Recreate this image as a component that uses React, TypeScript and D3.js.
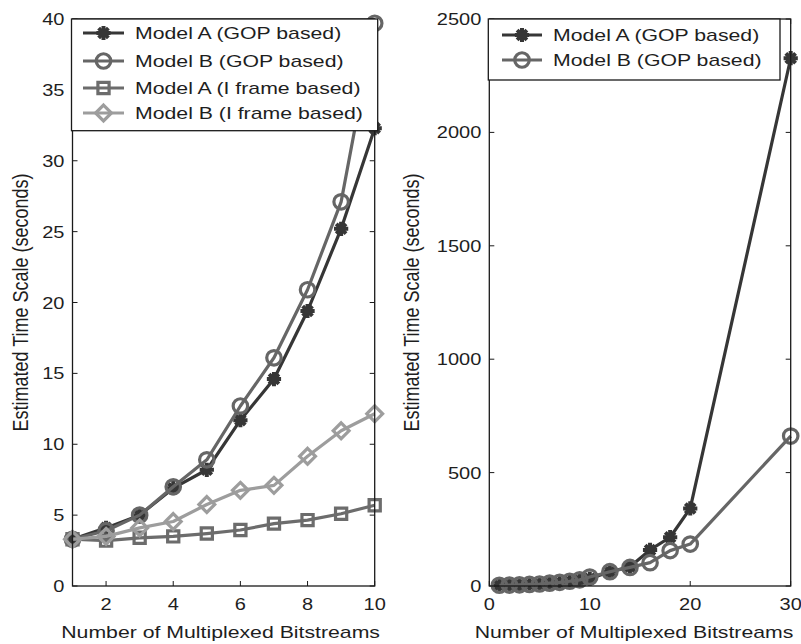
import React from "react";
import * as d3 from "d3";

// ---------- data ----------
const leftX = [1, 2, 3, 4, 5, 6, 7, 8, 9, 10];
const leftModelAGop = [3.3, 4.1, 5.0, 6.9, 8.2, 11.7, 14.6, 19.4, 25.2, 32.3];
const leftModelBGop = [3.3, 3.9, 5.0, 7.0, 8.9, 12.7, 16.1, 20.9, 27.1, 39.7];
const leftModelAIframe = [3.3, 3.2, 3.4, 3.5, 3.7, 3.95, 4.4, 4.65, 5.1, 5.7];
const leftModelBIframe = [3.3, 3.5, 4.1, 4.55, 5.75, 6.75, 7.1, 9.15, 10.95, 12.15];

const rightX = [1, 2, 3, 4, 5, 6, 7, 8, 9, 10, 12, 14, 16, 18, 20, 30];
const rightModelAGop = [3.3, 4.1, 5.0, 6.9, 8.2, 11.7, 14.6, 19.4, 25.2, 32.3, 63, 85, 159, 215, 342, 2327];
const rightModelBGop = [3.3, 3.9, 5.0, 7.0, 8.9, 12.7, 16.1, 20.9, 27.1, 39.7, 63, 82, 103, 156, 185, 661];

const leftXTicks = [2, 4, 6, 8, 10];
const leftYTicks = [0, 5, 10, 15, 20, 25, 30, 35, 40];
const rightXTicks = [0, 10, 20, 30];
const rightYTicks = [0, 500, 1000, 1500, 2000, 2500];

const seriesNames = [
  "Model A (GOP based)",
  "Model B (GOP based)",
  "Model A (I frame based)",
  "Model B (I frame based)",
];
const xLabel = "Number of Multiplexed Bitstreams";
const yLabel = "Estimated Time Scale (seconds)";

// ---------- styles ----------
const FONT = "'Liberation Sans', Arial, Helvetica, sans-serif";
const SX = 1.25; // horizontal stretch of the original figure's text
const COLORS = ["#363636", "#666666", "#6c6c6c", "#9d9d9d"];
const MARKERS = ["star", "circle", "square", "diamond"];

function markerPaths(kind: string): string[] {
  const S: any = d3;
  if (kind === "star") {
    const plus = S.symbolPlus || d3.symbolCross;
    const times = S.symbolTimes || d3.symbolCross;
    return [d3.symbol(plus, 68)() as string, d3.symbol(times, 64)() as string];
  }
  if (kind === "circle") return [d3.symbol(d3.symbolCircle, 165)() as string];
  if (kind === "square") return [d3.symbol(d3.symbolSquare, 125)() as string];
  const dia = S.symbolDiamond2 || d3.symbolDiamond;
  return [d3.symbol(dia, 160)() as string];
}

function Marker({ kind, x, y, color }: { kind: string; x: number; y: number; color: string }) {
  return (
    <g transform={`translate(${x},${y})`}>
      {markerPaths(kind).map((p, i) => (
        <path key={i} d={p} fill="none" stroke={color} strokeWidth={kind === "star" ? 4 : 3.2} />
      ))}
    </g>
  );
}

function Txt({ x, y, anchor = "start", size, children, rotate = 0, spacing = 0 }: any) {
  return (
    <text
      transform={`translate(${x},${y}) scale(${SX},1)${rotate ? ` rotate(${rotate})` : ""}`}
      textAnchor={anchor}
      fontFamily={FONT}
      fontSize={size}
      letterSpacing={spacing}
      fill="#1e1e1e"
    >
      {children}
    </text>
  );
}

type PanelProps = {
  xs: number[];
  series: number[][];
  names: string[];
  xDomain: [number, number];
  yDomain: [number, number];
  xRange: [number, number];
  xTicks: number[];
  yTicks: number[];
  legendRight: number;
  legendBottom: number;
  legendLineX: [number, number];
  legendTextX: number;
  legendRowYs: number[];
  yLabelX: number;
  xLabelShift: number;
};

const TOP = 19;
const BOTTOM = 586;
const TICK = 5;

function Panel(p: PanelProps) {
  const x = d3.scaleLinear().domain(p.xDomain).range(p.xRange);
  const y = d3.scaleLinear().domain(p.yDomain).range([BOTTOM, TOP]);
  const line = d3
    .line<number>()
    .x((_, i) => x(p.xs[i]))
    .y((d) => y(d));
  const [L, R] = p.xRange;
  const axisColor = "#1a1a1a";
  return (
    <g>
      {p.xTicks.map((t) => (
        <g key={"xt" + t}>
          <line x1={x(t)} x2={x(t)} y1={BOTTOM} y2={BOTTOM - TICK} stroke={axisColor} strokeWidth={1} />
          <line x1={x(t)} x2={x(t)} y1={TOP} y2={TOP + TICK} stroke={axisColor} strokeWidth={1} />
          <Txt x={x(t)} y={BOTTOM + 24} anchor="middle" size={16}>
            {t}
          </Txt>
        </g>
      ))}
      {p.yTicks.map((t) => (
        <g key={"yt" + t}>
          <line x1={L} x2={L + TICK} y1={y(t)} y2={y(t)} stroke={axisColor} strokeWidth={1} />
          <line x1={R} x2={R - TICK} y1={y(t)} y2={y(t)} stroke={axisColor} strokeWidth={1} />
          <Txt x={L - 8} y={y(t) + 6} anchor="end" size={16}>
            {t}
          </Txt>
        </g>
      ))}
      {p.series.map((s, si) => (
        <g key={"s" + si}>
          <path d={line(s) as string} fill="none" stroke={COLORS[si]} strokeWidth={3.2} strokeLinejoin="round" />
          {s.map((v, i) => (
            <Marker key={i} kind={MARKERS[si]} x={x(p.xs[i])} y={y(v)} color={COLORS[si]} />
          ))}
        </g>
      ))}
      <rect x={L} y={TOP} width={R - L} height={BOTTOM - TOP} fill="none" stroke={axisColor} strokeWidth={1.3} />
      <rect
        x={L - 1}
        y={TOP}
        width={p.legendRight - L + 1}
        height={p.legendBottom - TOP}
        fill="#fff"
        stroke={axisColor}
        strokeWidth={1.3}
      />
      {p.names.map((n, i) => (
        <g key={"lg" + i}>
          <line
            x1={p.legendLineX[0]}
            x2={p.legendLineX[1]}
            y1={p.legendRowYs[i]}
            y2={p.legendRowYs[i]}
            stroke={COLORS[i]}
            strokeWidth={3.2}
          />
          <Marker
            kind={MARKERS[i]}
            x={(p.legendLineX[0] + p.legendLineX[1]) / 2}
            y={p.legendRowYs[i]}
            color={COLORS[i]}
          />
          <Txt x={p.legendTextX} y={p.legendRowYs[i] + 6} size={17}>
            {n}
          </Txt>
        </g>
      ))}
      <Txt x={(L + R) / 2 + p.xLabelShift} y={638} anchor="middle" size={17}>
        {xLabel}
      </Txt>
      <Txt x={p.yLabelX} y={(TOP + BOTTOM) / 2} anchor="middle" size={18} rotate={-90}>
        {yLabel}
      </Txt>
    </g>
  );
}

export default function App() {
  return (
    <svg
      width={801}
      height={644}
      style={{ position: "absolute", left: 0, top: 0, background: "#fff" }}
    >
      <rect x={0} y={0} width={801} height={644} fill="#fff" />
      <Panel
        xs={leftX}
        series={[leftModelAGop, leftModelBGop, leftModelAIframe, leftModelBIframe]}
        names={seriesNames}
        xDomain={[1, 10]}
        yDomain={[0, 40]}
        xRange={[72.5, 374.7]}
        xTicks={leftXTicks}
        yTicks={leftYTicks}
        legendRight={377.7}
        legendBottom={130.7}
        legendLineX={[83, 124]}
        legendTextX={135}
        legendRowYs={[33, 61, 88, 113]}
        yLabelX={28}
        xLabelShift={-3}
      />
      <Panel
        xs={rightX}
        series={[rightModelAGop, rightModelBGop]}
        names={seriesNames.slice(0, 2)}
        xDomain={[0, 30]}
        yDomain={[0, 2500]}
        xRange={[489.3, 790.7]}
        xTicks={rightXTicks}
        yTicks={rightYTicks}
        legendRight={780}
        legendBottom={80}
        legendLineX={[502, 542]}
        legendTextX={553}
        legendRowYs={[35, 60]}
        yLabelX={419}
        xLabelShift={-6}
      />
    </svg>
  );
}
